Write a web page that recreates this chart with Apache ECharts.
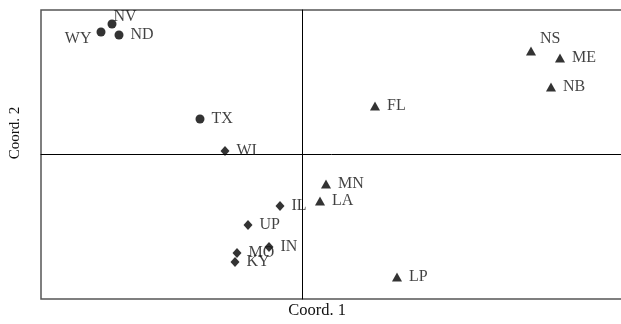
<!DOCTYPE html>
<html>
<head>
<meta charset="utf-8">
<script src="https://cdn.jsdelivr.net/npm/echarts@6/dist/echarts.min.js"></script>
<style>
  html, body { margin: 0; padding: 0; background: #fff; }
  #chart { width: 621px; height: 324px; }
</style>
</head>
<body>
<div id="chart"></div>
<script>
// Ordination scores, grouped by marker shape
const circleLabels = ['NV', 'WY', 'ND', 'TX'];
const circleX = [-1.90, -2.01, -1.83, -1.02];
const circleY = [1.30, 1.22, 1.19, 0.35];

const diamondLabels = ['WI', 'IL', 'UP', 'IN', 'MO', 'KY'];
const diamondX = [-0.77, -0.22, -0.54, -0.33, -0.65, -0.67];
const diamondY = [0.03, -0.52, -0.71, -0.93, -0.99, -1.08];

const triangleLabels = ['MN', 'LA', 'LP', 'NS', 'ME', 'NB', 'FL'];
const triangleX = [0.24, 0.18, 0.95, 2.29, 2.58, 2.49, 0.73];
const triangleY = [-0.30, -0.47, -1.23, 1.03, 0.96, 0.67, 0.48];

const axisTitleX = 'Coord. 1';
const axisTitleY = 'Coord. 2';

const FONT = 'Liberation Serif';

// Labels that sit off the default right-hand position
const labelOverrides = {
  NV: { position: 'right', offset: [-10, -7] },
  WY: { position: 'left', distance: 5, offset: [0, 7] },
  NS: { position: 'right', offset: [-3, -12] }
};

function build(names, xs, ys) {
  return names.map((n, i) => {
    const item = { name: n, value: [xs[i], ys[i]] };
    if (labelOverrides[n]) item.label = labelOverrides[n];
    return item;
  });
}

const labelStyle = {
  show: true,
  position: 'right',
  distance: 7,
  formatter: p => p.name,
  color: '#111',
  fontFamily: FONT,
  fontSize: 16
};

const chart = echarts.init(document.getElementById('chart'), null, { renderer: 'canvas' });

chart.setOption({
  animation: false,
  backgroundColor: '#fff',
  grid: {
    // the plot frame runs on past the right edge of the canvas
    left: 41, top: 10, width: 585, height: 289,
    outerBoundsMode: 'none',
    show: true, borderColor: '#555', borderWidth: 1.5, backgroundColor: 'transparent'
  },
  xAxis: {
    type: 'value', min: -2.61, max: 3.24,
    axisLine: { show: true, onZero: true, lineStyle: { color: '#000', width: 1 } },
    axisTick: { show: false }, axisLabel: { show: false }, splitLine: { show: false }
  },
  yAxis: {
    type: 'value', min: -1.45, max: 1.44,
    axisLine: { show: true, onZero: true, lineStyle: { color: '#000', width: 1 } },
    axisTick: { show: false }, axisLabel: { show: false }, splitLine: { show: false }
  },
  graphic: [
    {
      type: 'text', x: 317, y: 311,
      style: { text: axisTitleX, fill: '#111', font: '16.5px "' + FONT + '"', textAlign: 'center', textVerticalAlign: 'middle' }
    },
    {
      type: 'text', x: 15, y: 133, rotation: Math.PI / 2,
      style: { text: axisTitleY, fill: '#111', font: '15px "' + FONT + '"', textAlign: 'center', textVerticalAlign: 'middle' }
    }
  ],
  series: [
    {
      type: 'scatter', symbol: 'circle', symbolSize: 9,
      itemStyle: { color: '#000' }, label: labelStyle,
      data: build(circleLabels, circleX, circleY)
    },
    {
      type: 'scatter', symbol: 'diamond', symbolSize: [9, 10],
      itemStyle: { color: '#000' }, label: labelStyle,
      data: build(diamondLabels, diamondX, diamondY)
    },
    {
      type: 'scatter', symbol: 'triangle', symbolSize: [10, 9],
      itemStyle: { color: '#000' }, label: labelStyle,
      data: build(triangleLabels, triangleX, triangleY)
    }
  ]
});
</script>
</body>
</html>
